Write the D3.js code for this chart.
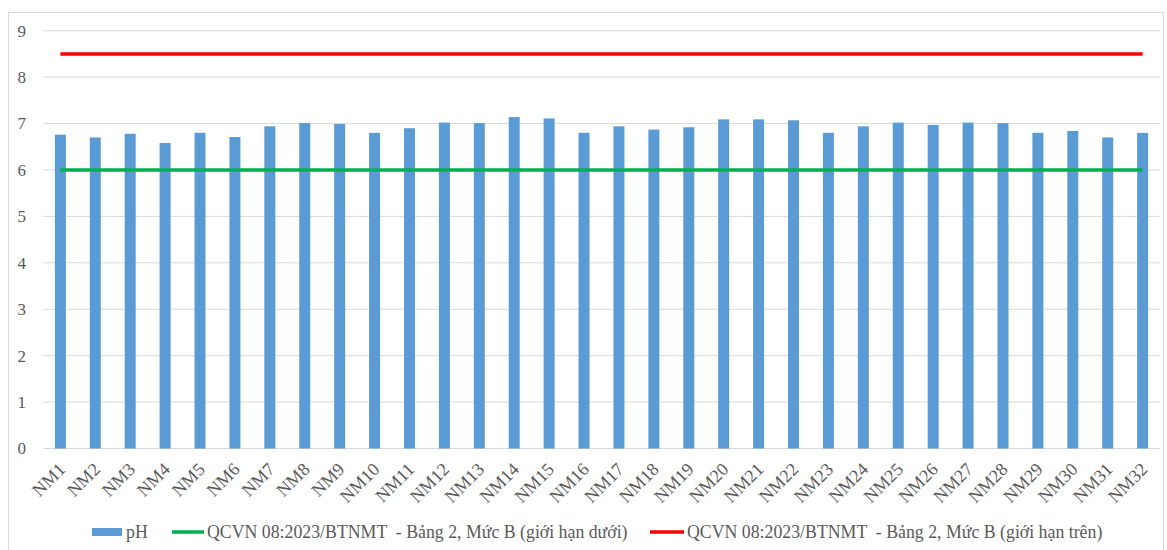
<!DOCTYPE html>
<html>
<head>
<meta charset="utf-8">
<script src="https://cdn.jsdelivr.net/npm/d3@7"></script>
<style>
  body { margin: 0; background: #fff; }
  text { font-family: "Liberation Serif", "Times New Roman", serif; white-space: pre; }
</style>
</head>
<body>
<svg id="chart" width="1167" height="550"></svg>
<script>
const width = 1167;
const height = 550;

// data
const sites = ["NM1","NM2","NM3","NM4","NM5","NM6","NM7","NM8","NM9","NM10",
  "NM11","NM12","NM13","NM14","NM15","NM16","NM17","NM18","NM19","NM20",
  "NM21","NM22","NM23","NM24","NM25","NM26","NM27","NM28","NM29","NM30","NM31","NM32"];
const ph = [6.76, 6.70, 6.78, 6.58, 6.80, 6.71, 6.94, 7.01, 6.99, 6.80,
  6.90, 7.02, 7.01, 7.14, 7.11, 6.80, 6.94, 6.87, 6.92, 7.09,
  7.09, 7.07, 6.80, 6.94, 7.02, 6.97, 7.02, 7.01, 6.80, 6.84, 6.70, 6.80];
const lowerLimit = sites.map(() => 6);
const upperLimit = sites.map(() => 8.5);
const yTicks = [0, 1, 2, 3, 4, 5, 6, 7, 8, 9];
const legendNames = ["pH",
  "QCVN 08:2023/BTNMT  - Bảng 2, Mức B (giới hạn dưới)",
  "QCVN 08:2023/BTNMT  - Bảng 2, Mức B (giới hạn trên)"];

const margin = { left: 43, right: 7, top: 30.7, bottom: 101.5 };
const svg = d3.select("#chart");

// chart frame
svg.append("rect")
  .attr("x", 8.5).attr("y", 12.5)
  .attr("width", 1155).attr("height", 540)
  .attr("fill", "none").attr("stroke", "#d9d9d9");

const x = d3.scaleBand()
  .domain(sites)
  .range([margin.left, width - margin.right])
  .paddingInner(0.685).paddingOuter(0.34);

const y = d3.scaleLinear()
  .domain([0, 9])
  .range([height - margin.bottom, margin.top]);

// gridlines
svg.append("g")
  .selectAll("line")
  .data(yTicks)
  .join("line")
  .attr("x1", margin.left).attr("x2", width - margin.right)
  .attr("y1", d => y(d)).attr("y2", d => y(d))
  .attr("stroke", "#d9d9d9").attr("stroke-width", 1);

// y tick labels
svg.append("g")
  .selectAll("text")
  .data(yTicks)
  .join("text")
  .attr("x", 26).attr("y", d => y(d))
  .attr("dy", "0.35em")
  .attr("text-anchor", "end")
  .attr("font-size", 17)
  .attr("fill", "#595959")
  .text(d => d);

// bars
svg.append("g")
  .selectAll("rect")
  .data(ph)
  .join("rect")
  .attr("x", (d, i) => x(sites[i]))
  .attr("width", x.bandwidth())
  .attr("y", d => y(d))
  .attr("height", d => y(0) - y(d))
  .attr("fill", "#5b9bd5");

// limit lines
const cx = d => x(d) + x.bandwidth() / 2;
const line = d3.line()
  .x((d, i) => cx(sites[i]))
  .y(d => y(d));

svg.append("path")
  .datum(lowerLimit)
  .attr("d", line)
  .attr("fill", "none")
  .attr("stroke", "#00b050")
  .attr("stroke-width", 3.5);

svg.append("path")
  .datum(upperLimit)
  .attr("d", line)
  .attr("fill", "none")
  .attr("stroke", "#ff0000")
  .attr("stroke-width", 3.5);

// x labels
svg.append("g")
  .selectAll("text")
  .data(sites)
  .join("text")
  .attr("transform", d => `translate(${cx(d) + 6},${y(0) + 22}) rotate(-45)`)
  .attr("text-anchor", "end")
  .attr("font-size", 18)
  .attr("fill", "#595959")
  .text(d => d);

// legend
const legend = svg.append("g").attr("font-size", 17.8).attr("fill", "#595959");
const ly = 532;

legend.append("rect")
  .attr("x", 92).attr("y", ly - 4)
  .attr("width", 30).attr("height", 8)
  .attr("fill", "#5b9bd5");
legend.append("text")
  .attr("x", 126).attr("y", ly).attr("dy", "0.35em")
  .text(legendNames[0]);

legend.append("line")
  .attr("x1", 172).attr("x2", 204)
  .attr("y1", ly).attr("y2", ly)
  .attr("stroke", "#00b050").attr("stroke-width", 3.5);
legend.append("text")
  .attr("x", 207).attr("y", ly).attr("dy", "0.35em")
  .text(legendNames[1]);

legend.append("line")
  .attr("x1", 650).attr("x2", 684)
  .attr("y1", ly).attr("y2", ly)
  .attr("stroke", "#ff0000").attr("stroke-width", 3.5);
legend.append("text")
  .attr("x", 687).attr("y", ly).attr("dy", "0.35em")
  .text(legendNames[2]);
</script>
</body>
</html>
